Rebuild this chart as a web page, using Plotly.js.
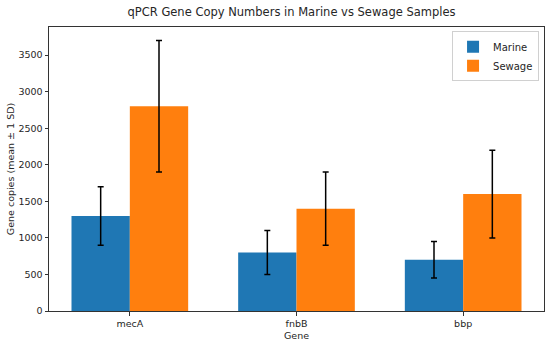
<!DOCTYPE html>
<html><head><meta charset="utf-8">
<script src="https://cdn.plot.ly/plotly-3.0.1.min.js"></script>
<style>html,body{margin:0;padding:0;background:#fff;}#chart{width:550px;height:351px;}</style>
</head><body><div id="chart"></div>
<script>
const genes = ["mecA", "fnbB", "bbp"];
const marineMean = [1300, 800, 700];
const marineSD = [400, 300, 250];
const sewageMean = [2800, 1400, 1600];
const sewageSD = [900, 500, 600];
const yTicks = [0, 500, 1000, 1500, 2000, 2500, 3000, 3500];

const font = {family: "DejaVu Sans, sans-serif", color: "#262626"};
const errStyle = {type: "data", visible: true, color: "#000", thickness: 1.5, width: 3};

const traces = [
  {type: "bar", name: "Marine", x: genes, y: marineMean,
   marker: {color: "#1f77b4"},
   error_y: Object.assign({array: marineSD}, errStyle)},
  {type: "bar", name: "Sewage", x: genes, y: sewageMean,
   marker: {color: "#ff7f0e"},
   error_y: Object.assign({array: sewageSD}, errStyle)}
];

const layout = {
  width: 550, height: 351,
  margin: {l: 49, r: 6, t: 27, b: 40},
  paper_bgcolor: "#fff", plot_bgcolor: "#fff",
  font: Object.assign({size: 9.5}, font),
  barmode: "group", bargap: 0.3, bargroupgap: 0,
  title: {text: "qPCR Gene Copy Numbers in Marine vs Sewage Samples",
          font: Object.assign({size: 11.5}, font), x: 0.53, xanchor: "center", y: 0.965, yanchor: "middle"},
  xaxis: {type: "category", range: [-0.485, 2.485],
          showline: true, mirror: true, linecolor: "#333", linewidth: 1,
          ticks: "outside", ticklen: 3.5, tickcolor: "#333",
          showgrid: false, zeroline: false,
          title: {text: "Gene", font: Object.assign({size: 9.5}, font), standoff: 4}},
  yaxis: {range: [0, 3885], tickvals: yTicks, ticktext: yTicks.map(String),
          showline: true, mirror: true, linecolor: "#333", linewidth: 1,
          ticks: "outside", ticklen: 3.5, tickcolor: "#333",
          showgrid: false, zeroline: false,
          title: {text: "Gene copies (mean ± 1 SD)", font: Object.assign({size: 9.5}, font), standoff: 2}},
  legend: {x: 0.99, y: 0.985, xanchor: "right", yanchor: "top",
           bordercolor: "#d0d0d0", borderwidth: 1, bgcolor: "rgba(255,255,255,0.8)",
           font: Object.assign({size: 10}, font), itemwidth: 30},
  showlegend: true
};

Plotly.newPlot("chart", traces, layout, {displayModeBar: false, staticPlot: true});
</script>
</body></html>
